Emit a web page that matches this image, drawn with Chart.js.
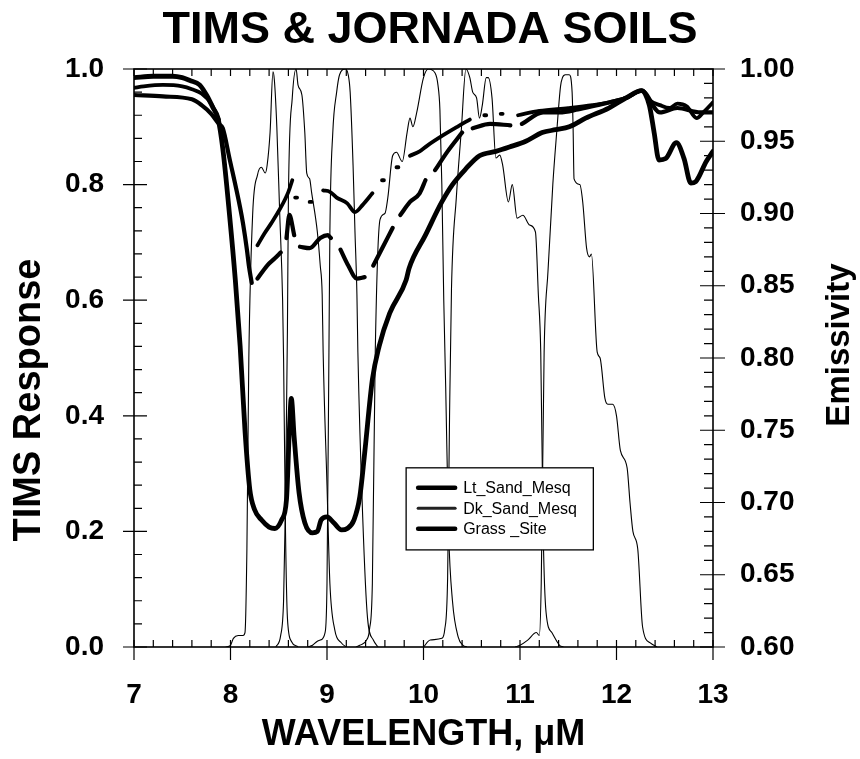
<!DOCTYPE html>
<html>
<head>
<meta charset="utf-8">
<script src="https://cdn.jsdelivr.net/npm/chart.js@4.4.1/dist/chart.umd.min.js"></script>
<style>
  html, body { margin: 0; padding: 0; background: #fff; }
  #wrap { width: 860px; height: 759px; }
</style>
</head>
<body>
<div id="wrap"><canvas id="timsChart" width="860" height="759"></canvas></div>
<script>
// TIMS filter responses (left axis) and Jornada soil emissivities (right axis)
const band1Wl   = [7.95, 8.0, 8.03, 8.08, 8.13, 8.15, 8.17, 8.19, 8.23, 8.28, 8.32, 8.36, 8.38, 8.41, 8.44, 8.455, 8.48, 8.51, 8.54, 8.55, 8.57, 8.59, 8.63, 8.7];
const band1Resp = [0.0, 0.003, 0.015, 0.02, 0.02, 0.025, 0.17, 0.5, 0.75, 0.817, 0.83, 0.82, 0.834, 0.89, 0.995, 0.98, 0.9, 0.75, 0.6, 0.5, 0.2, 0.05, 0.01, 0.0];

const band2Wl   = [8.47, 8.52, 8.55, 8.57, 8.59, 8.6, 8.64, 8.68, 8.7, 8.74, 8.77, 8.79, 8.82, 8.84, 8.9, 8.93, 8.95, 8.96, 9.0, 9.03, 9.08, 9.15, 9.2];
const band2Resp = [0.0, 0.02, 0.08, 0.25, 0.55, 0.777, 0.95, 1.0, 0.972, 0.955, 0.89, 0.82, 0.81, 0.787, 0.718, 0.66, 0.61, 0.51, 0.28, 0.11, 0.03, 0.007, 0.0];

const band3Wl   = [8.8, 8.85, 8.9, 8.93, 8.98, 9.0, 9.02, 9.03, 9.06, 9.1, 9.13, 9.19, 9.22, 9.24, 9.27, 9.29, 9.31, 9.32, 9.37, 9.42, 9.48, 9.53];
const band3Resp = [0.0, 0.003, 0.01, 0.012, 0.025, 0.11, 0.51, 0.72, 0.89, 0.96, 0.99, 1.0, 0.99, 0.96, 0.834, 0.718, 0.61, 0.51, 0.225, 0.05, 0.012, 0.0];

const band4Wl   = [9.3, 9.34, 9.41, 9.44, 9.47, 9.5, 9.55, 9.6, 9.63, 9.68, 9.72, 9.78, 9.83, 9.86, 9.89, 9.93, 10.0, 10.05, 10.12, 10.15, 10.17, 10.19, 10.21, 10.23, 10.26, 10.3, 10.36, 10.41, 10.45];
const band4Resp = [0.0, 0.003, 0.012, 0.03, 0.11, 0.51, 0.74, 0.75, 0.777, 0.85, 0.856, 0.84, 0.89, 0.915, 0.9, 0.925, 0.985, 1.0, 0.993, 0.972, 0.93, 0.8, 0.6, 0.45, 0.2, 0.08, 0.017, 0.003, 0.0];

const band5Wl   = [10.0, 10.07, 10.19, 10.22, 10.25, 10.27, 10.29, 10.34, 10.39, 10.44, 10.48, 10.51, 10.55, 10.58, 10.61, 10.65, 10.67, 10.71, 10.75, 10.79, 10.82, 10.88, 10.92, 10.97, 11.03, 11.1, 11.16, 11.19, 11.215, 11.24, 11.27, 11.33, 11.41, 11.45];
const band5Resp = [0.0, 0.012, 0.015, 0.03, 0.12, 0.4, 0.62, 0.777, 0.89, 1.0, 0.985, 0.96, 0.95, 0.915, 0.938, 0.985, 0.985, 0.95, 0.846, 0.851, 0.834, 0.77, 0.8, 0.742, 0.747, 0.73, 0.718, 0.61, 0.51, 0.2, 0.06, 0.025, 0.003, 0.0];

const band6Wl   = [10.95, 11.0, 11.08, 11.17, 11.2, 11.22, 11.25, 11.29, 11.34, 11.38, 11.42, 11.44, 11.47, 11.51, 11.54, 11.55, 11.56, 11.62, 11.65, 11.69, 11.72, 11.74, 11.8, 11.83, 11.88, 11.91, 11.96, 12.0, 12.04, 12.11, 12.14, 12.17, 12.22, 12.27, 12.35, 12.42];
const band6Resp = [0.0, 0.003, 0.012, 0.025, 0.02, 0.11, 0.51, 0.65, 0.8, 0.89, 0.97, 0.985, 0.99, 0.99, 0.96, 0.9, 0.81, 0.8, 0.77, 0.69, 0.675, 0.68, 0.51, 0.5, 0.43, 0.42, 0.42, 0.4, 0.34, 0.31, 0.25, 0.2, 0.17, 0.035, 0.007, 0.0];

// emissivity spectra, null = gap in the measured record
const ltSandWl = [7.0, 7.2, 7.4, 7.5, 7.58, 7.68, 7.76, 7.82, 7.87, 7.92, 7.99, 8.05, 8.1, 8.15, 8.2, 8.25, 8.32, 8.4, 8.46, 8.53, 8.58, 8.61, 8.63, 8.66, 8.71, 8.77, 8.85, 8.9, 8.94, 9.0, 9.07, 9.15, 9.21, 9.28, 9.34, 9.39, 9.47, 9.54, 9.65, 9.82, 9.85, 10.02, 10.19, 10.3, 10.44, 10.58, 10.75, 10.89, 11.06, 11.23, 11.37, 11.51, 11.68, 11.92, 12.1, 12.26, 12.34, 12.39, 12.44, 12.51, 12.62, 12.7, 12.77, 12.82, 12.93, 13.0];
const ltSandEm = [0.994, 0.995, 0.995, 0.994, 0.992, 0.989, 0.981, 0.973, 0.966, 0.945, 0.899, 0.854, 0.808, 0.75, 0.709, 0.695, 0.688, 0.683, 0.682, 0.688, 0.702, 0.75, 0.772, 0.745, 0.707, 0.686, 0.679, 0.68, 0.688, 0.69, 0.686, 0.681, 0.682, 0.688, 0.704, 0.734, 0.785, 0.808, 0.831, 0.854, 0.862, 0.885, 0.908, 0.92, 0.931, 0.94, 0.943, 0.946, 0.95, 0.956, 0.958, 0.96, 0.966, 0.973, 0.98, 0.985, 0.975, 0.956, 0.937, 0.938, 0.949, 0.938, 0.921, 0.922, 0.936, 0.943];

const dkSandWl = [7.0, 7.1, 7.3, 7.5, 7.6, 7.7, 7.8, 7.88, 7.95, 8.28, 8.35, 8.42, 8.52, 8.6, 8.64, 8.66, 8.67, 8.69, 8.7, 8.82, 8.84, 8.9, 8.96, 9.03, 9.1, 9.21, 9.29, 9.37, 9.47, 9.52, 9.57, 9.59, 9.65, 9.72, 9.74, 9.8, 9.86, 9.96, 10.04, 10.2, 10.35, 10.48, 10.55, 10.63, 10.65, 10.7, 10.8, 10.82, 10.9, 10.98, 11.2, 11.5, 11.75, 11.93, 12.1, 12.26, 12.35, 12.45, 12.55, 12.63, 12.73, 12.83, 12.9, 13.0];
const dkSandEm = [0.987, 0.988, 0.989, 0.988, 0.986, 0.983, 0.976, 0.965, null, 0.878, 0.886, 0.893, 0.904, 0.915, 0.923, null, 0.911, 0.911, null, 0.908, 0.908, null, 0.916, 0.915, 0.911, 0.907, 0.901, 0.906, 0.914, null, 0.923, 0.923, null, 0.932, 0.932, null, 0.94, 0.943, 0.947, 0.954, 0.96, 0.965, null, 0.968, 0.968, null, 0.969, 0.969, null, 0.968, 0.971, 0.973, 0.975, 0.977, 0.98, 0.985, 0.978, 0.975, 0.973, 0.976, 0.974, 0.966, 0.97, 0.977];

const grassWl = [7.0, 7.3, 7.6, 7.7, 7.8, 7.88, 7.92, 7.99, 8.1, 8.13, 8.17, 8.19, 8.22, 8.25, 8.28, 8.38, 8.46, 8.52, 8.55, 8.58, 8.61, 8.66, 8.69, 8.72, 8.82, 8.93, 9.01, 9.04, 9.09, 9.14, 9.22, 9.31, 9.39, 9.44, 9.48, 9.58, 9.68, 9.72, 9.76, 9.86, 9.96, 10.02, 10.07, 10.12, 10.25, 10.4, 10.45, 10.51, 10.69, 10.9, 10.96, 11.02, 11.24, 11.41, 11.6, 11.8, 11.93, 12.1, 12.26, 12.45, 12.63, 12.87, 13.0];
const grassEm = [0.982, 0.981, 0.979, 0.975, 0.969, 0.962, 0.959, 0.938, 0.904, 0.893, 0.875, 0.864, 0.852, null, 0.855, 0.864, 0.869, 0.873, null, 0.883, 0.899, 0.885, null, 0.877, 0.876, 0.883, 0.885, 0.883, null, 0.875, 0.864, 0.855, 0.856, null, 0.864, 0.877, 0.89, null, 0.899, 0.908, 0.914, 0.923, null, 0.93, 0.943, 0.956, null, 0.959, 0.962, 0.961, null, 0.962, 0.97, 0.97, 0.972, 0.975, 0.977, 0.98, 0.985, 0.97, 0.973, 0.97, 0.97];

const soilNames = ['Lt_Sand_Mesq', 'Dk_Sand_Mesq', 'Grass _Site'];

const FONT = '"Liberation Sans", Arial, sans-serif';
const pts = (xs, ys) => xs.map((x, i) => ({ x: x, y: ys[i] }));

function band(xs, ys) {
  return { data: pts(xs, ys), yAxisID: 'y', borderColor: '#000', borderWidth: 1.1,
           pointRadius: 0, cubicInterpolationMode: 'monotone' };
}
function soil(label, xs, ys, w) {
  return { label: label, data: pts(xs, ys), yAxisID: 'y2', borderColor: '#000', borderWidth: w,
           borderCapStyle: 'round', borderJoinStyle: 'round',
           pointRadius: 0, cubicInterpolationMode: 'monotone', spanGaps: false };
}

// frame, inward ticks, legend box and the two vertical titles
const decor = {
  id: 'decor',
  afterDatasetsDraw(chart) {
    const { ctx, chartArea: a, scales: { x, y, y2 } } = chart;
    ctx.save();
    ctx.strokeStyle = '#000';
    ctx.lineWidth = 1.6;
    ctx.strokeRect(a.left, a.top, a.right - a.left, a.bottom - a.top);

    ctx.lineWidth = 1.2;
    ctx.beginPath();
    for (let i = 0; i <= 30; i++) {
      const px = x.getPixelForValue(7 + i * 0.2);
      const major = i % 5 === 0;
      ctx.moveTo(px, a.bottom + (major ? 13 : 0));
      ctx.lineTo(px, a.bottom - 7);
      ctx.moveTo(px, a.top);
      ctx.lineTo(px, a.top + 7);
    }
    for (let i = 0; i <= 25; i++) {
      const py = y.getPixelForValue(i * 0.04);
      const major = i % 5 === 0;
      ctx.moveTo(a.left - (major ? 11 : 0), py);
      ctx.lineTo(a.left + (major ? 13 : 8), py);
    }
    for (let i = 0; i <= 40; i++) {
      const py = y2.getPixelForValue(0.6 + i * 0.01);
      const major = i % 5 === 0;
      ctx.moveTo(a.right + (major ? 12 : 0), py);
      ctx.lineTo(a.right - (major ? 13 : 9), py);
    }
    ctx.stroke();

    // legend
    const bx0 = x.getPixelForValue(9.82), bx1 = x.getPixelForValue(11.76);
    const by0 = y.getPixelForValue(0.31), by1 = y.getPixelForValue(0.168);
    ctx.fillStyle = '#fff';
    ctx.fillRect(bx0, by0, bx1 - bx0, by1 - by0);
    ctx.lineWidth = 1.3;
    ctx.strokeRect(bx0, by0, bx1 - bx0, by1 - by0);
    const widths = [4.5, 3, 4.5];
    ctx.font = '16px ' + FONT;
    ctx.textBaseline = 'middle';
    ctx.fillStyle = '#000';
    soilNames.forEach((name, i) => {
      const ly = by0 + 20 + i * 20.5;
      ctx.beginPath();
      ctx.lineWidth = widths[i];
      ctx.strokeStyle = i === 1 ? '#222' : '#000';
      ctx.lineCap = 'round';
      ctx.moveTo(bx0 + 12, ly);
      ctx.lineTo(bx0 + 49, ly);
      ctx.stroke();
      ctx.fillText(name, bx0 + 57, ly + 1);
    });

    // vertical axis titles
    ctx.textAlign = 'center';
    ctx.textBaseline = 'middle';
    ctx.font = 'bold 38px ' + FONT;
    ctx.translate(30, 400);
    ctx.rotate(-Math.PI / 2);
    ctx.fillText('TIMS Response', 0, 0);
    ctx.rotate(Math.PI / 2);
    ctx.translate(-30, -400);
    ctx.font = 'bold 33px ' + FONT;
    ctx.translate(840, 345);
    ctx.rotate(-Math.PI / 2);
    ctx.fillText('Emissivity', 0, 0);
    ctx.restore();
  }
};

const tickFont = { family: FONT, size: 28, weight: 'bold' };

new Chart(document.getElementById('timsChart'), {
  type: 'line',
  data: {
    datasets: [
      band(band1Wl, band1Resp), band(band2Wl, band2Resp), band(band3Wl, band3Resp),
      band(band4Wl, band4Resp), band(band5Wl, band5Resp), band(band6Wl, band6Resp),
      soil(soilNames[0], ltSandWl, ltSandEm, 4.8),
      soil(soilNames[1], dkSandWl, dkSandEm, 3.8),
      soil(soilNames[2], grassWl, grassEm, 4.2)
    ]
  },
  options: {
    responsive: false,
    animation: false,
    layout: { padding: 0 },
    plugins: {
      legend: { display: false },
      tooltip: { enabled: false },
      title: {
        display: true, text: 'TIMS & JORNADA SOILS', color: '#000',
        font: { family: FONT, size: 45, weight: 'bold', lineHeight: 1.2 },
        padding: { top: 4, bottom: 11 }
      }
    },
    scales: {
      x: {
        type: 'linear', min: 7, max: 13,
        grid: { display: false, drawTicks: false }, border: { display: false },
        ticks: { stepSize: 1, padding: 31, color: '#000', font: tickFont },
        title: { display: true, text: 'WAVELENGTH, \u03bcM', color: '#000',
                 font: { family: FONT, size: 36, weight: 'bold', lineHeight: 1 }, padding: { top: 0, bottom: 6 } },
        afterFit(s) { s.height = 112; }
      },
      y: {
        position: 'left', min: 0, max: 1,
        grid: { display: false, drawTicks: false }, border: { display: false },
        ticks: { stepSize: 0.2, padding: 30, color: '#000', font: tickFont, callback: v => v.toFixed(1) },
        afterFit(s) { s.width = 134; }
      },
      y2: {
        position: 'right', min: 0.6, max: 1.0,
        grid: { display: false, drawTicks: false }, border: { display: false },
        ticks: { stepSize: 0.05, padding: 27, color: '#000', font: tickFont, callback: v => v.toFixed(2) },
        afterFit(s) { s.width = 147; }
      }
    }
  },
  plugins: [decor]
});
</script>
</body>
</html>
